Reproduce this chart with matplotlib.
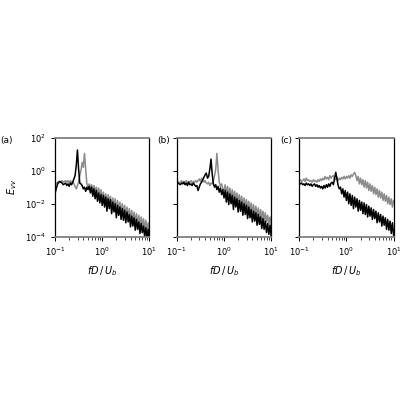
import numpy as np
import matplotlib
matplotlib.use("Agg")
import matplotlib.pyplot as plt

# frequency samples, log10(fD/U_b)
logf = [-1.0, -0.975, -0.95, -0.925, -0.9, -0.875, -0.85, -0.825, -0.8, -0.775,
        -0.75, -0.725, -0.7, -0.675, -0.65, -0.625, -0.6, -0.575, -0.55, -0.525,
        -0.5, -0.475, -0.45, -0.425, -0.4, -0.375, -0.35, -0.325, -0.3, -0.275,
        -0.25, -0.225, -0.2, -0.175, -0.15, -0.125, -0.1, -0.075, -0.05, -0.025,
        0.0, 0.025, 0.05, 0.075, 0.1, 0.125, 0.15, 0.175, 0.2, 0.225,
        0.25, 0.275, 0.3, 0.325, 0.35, 0.375, 0.4, 0.425, 0.45, 0.475,
        0.5, 0.525, 0.55, 0.575, 0.6, 0.625, 0.65, 0.675, 0.7, 0.725,
        0.75, 0.775, 0.8, 0.825, 0.85, 0.875, 0.9, 0.925, 0.95, 0.975, 1.0]

# log10(E_vv)
a_black = [-1.4, -1.1, -0.85, -0.7, -0.65, -0.7, -0.75, -0.85, -0.8, -0.75,
           -0.9, -0.8, -0.95, -0.75, -0.85, -0.7, -0.5, -0.3, 0.3, 1.25,
           0.1, -0.75, -0.8, -0.9, -1.1, -1.0, -1.25, -1.0, -1.15, -0.95,
           -1.35, -1.0, -1.55, -1.1, -1.7, -1.2, -1.85, -1.35, -1.95, -1.45,
           -2.1, -1.5, -2.2, -1.6, -2.45, -1.7, -2.3, -1.75, -2.6, -1.9,
           -2.5, -2.0, -2.85, -2.1, -2.7, -2.2, -2.95, -2.3, -3.0, -2.4,
           -3.15, -2.5, -3.1, -2.65, -3.4, -2.75, -3.35, -2.85, -3.6, -2.95,
           -3.55, -3.1, -3.8, -3.2, -3.75, -3.35, -4.0, -3.45, -4.1, -3.55, -4.2]
a_gray = [-0.9, -0.8, -0.7, -0.75, -0.65, -0.7, -0.6, -0.7, -0.65, -0.6,
          -0.7, -0.6, -0.75, -0.6, -0.7, -0.65, -0.8, -0.95, -1.1, -0.9,
          -0.7, -0.3, 0.0, 0.5, 0.2, 1.05, 0.1, -0.8, -1.0, -0.8,
          -1.05, -0.85, -1.2, -0.9, -1.3, -1.0, -1.4, -1.05, -1.55, -1.15,
          -1.7, -1.3, -1.85, -1.4, -2.0, -1.45, -1.95, -1.55, -2.15, -1.65,
          -2.2, -1.7, -2.35, -1.8, -2.4, -1.9, -2.55, -2.0, -2.6, -2.1,
          -2.75, -2.2, -2.8, -2.3, -2.95, -2.4, -3.0, -2.5, -3.15, -2.6,
          -3.2, -2.7, -3.35, -2.8, -3.4, -2.9, -3.55, -3.0, -3.65, -3.15, -3.7]

b_black = [-0.8, -0.75, -0.8, -0.85, -0.75, -0.8, -0.7, -0.85, -0.75, -0.9,
           -0.7, -0.85, -0.8, -0.9, -0.75, -0.85, -0.95, -0.9, -1.2, -1.0,
           -0.8, -0.7, -0.55, -0.4, -0.25, -0.15, -0.45, -0.35, 0.1, 0.7,
           -0.2, -0.8, -1.0, -0.85, -1.15, -0.95, -1.3, -1.05, -1.45, -1.15,
           -1.65, -1.2, -1.9, -1.3, -2.05, -1.4, -2.0, -1.5, -2.35, -1.6,
           -2.2, -1.7, -2.5, -1.8, -2.45, -1.9, -2.7, -2.0, -2.65, -2.1,
           -2.9, -2.2, -2.85, -2.35, -3.1, -2.45, -3.05, -2.55, -3.3, -2.65,
           -3.25, -2.8, -3.5, -2.9, -3.55, -3.05, -3.75, -3.2, -3.85, -3.3, -4.0]
b_gray = [-0.7, -0.65, -0.75, -0.7, -0.6, -0.75, -0.65, -0.7, -0.6, -0.75,
          -0.65, -0.7, -0.6, -0.75, -0.65, -0.7, -0.6, -0.7, -0.6, -0.5,
          -0.65, -0.45, -0.6, -0.7, -0.6, -0.75, -0.8, -0.7, -0.9, -0.75,
          -0.8, -0.6, -0.3, 0.1, 1.05, 0.0, -0.7, -0.95, -0.8, -1.1,
          -1.2, -0.85, -1.45, -0.95, -1.5, -1.05, -1.65, -1.15, -1.7, -1.25,
          -1.85, -1.35, -1.9, -1.45, -2.05, -1.55, -2.1, -1.65, -2.25, -1.75,
          -2.3, -1.85, -2.45, -1.95, -2.5, -2.05, -2.65, -2.15, -2.7, -2.25,
          -2.85, -2.35, -2.9, -2.45, -3.05, -2.55, -3.1, -2.7, -3.25, -2.8, -3.35]

c_black = [-0.7, -0.8, -0.75, -0.85, -0.8, -0.9, -0.75, -0.85, -0.8, -0.9,
           -0.8, -0.95, -0.85, -0.8, -0.95, -0.85, -1.0, -0.9, -1.05, -0.95,
           -1.1, -0.9, -1.05, -0.85, -1.0, -0.8, -0.95, -0.75, -0.7, -0.85,
           -0.45, -0.1, -0.5, -0.9, -1.1, -1.0, -1.4, -1.1, -1.6, -1.2,
           -1.8, -1.3, -2.0, -1.4, -2.1, -1.5, -2.3, -1.6, -2.2, -1.7,
           -2.45, -1.8, -2.4, -1.9, -2.6, -1.95, -2.65, -2.05, -2.8, -2.15,
           -2.75, -2.25, -2.95, -2.35, -2.9, -2.45, -3.15, -2.55, -3.1, -2.65,
           -3.35, -2.75, -3.3, -2.85, -3.55, -2.95, -3.6, -3.05, -3.8, -3.15, -3.9]
c_gray = [-0.6, -0.55, -0.65, -0.6, -0.5, -0.65, -0.45, -0.6, -0.55, -0.65,
          -0.6, -0.7, -0.55, -0.65, -0.6, -0.7, -0.55, -0.65, -0.5, -0.6,
          -0.45, -0.55, -0.35, -0.5, -0.4, -0.55, -0.3, -0.45, -0.35, -0.3,
          -0.5, -0.55, -0.4, -0.6, -0.45, -0.55, -0.4, -0.5, -0.35, -0.5,
          -0.35, -0.45, -0.3, -0.45, -0.25, -0.35, -0.2, -0.1, -0.3, -0.6,
          -0.35, -0.8, -0.45, -0.85, -0.55, -1.0, -0.6, -1.05, -0.7, -1.2,
          -0.8, -1.25, -0.9, -1.4, -1.0, -1.45, -1.1, -1.6, -1.2, -1.65,
          -1.3, -1.8, -1.4, -1.85, -1.5, -2.0, -1.6, -2.05, -1.7, -2.2, -1.8]

panels = ["(a)", "(b)", "(c)"]
series = [(a_black, a_gray), (b_black, b_gray), (c_black, c_gray)]

plt.rcParams['font.family'] = ['DejaVu Sans']
plt.rcParams['mathtext.fontset'] = 'dejavusans'

fig = plt.figure(figsize=(4, 4), dpi=100)
lefts = [0.1375, 0.442, 0.748]
label_x = [0.0, 0.392, 0.70]
freq = 10 ** np.array(logf)

for k, (name, (blk, gry)) in enumerate(zip(panels, series)):
    ax = fig.add_axes([lefts[k], 0.408, 0.236, 0.248])
    ax.plot(freq, 10 ** np.array(gry), color='0.55', lw=1.1)
    ax.plot(freq, 10 ** np.array(blk), color='black', lw=1.1)
    ax.set_xscale('log')
    ax.set_yscale('log')
    ax.set_xlim(0.1, 10)
    ax.set_ylim(1e-4, 1e2)
    ax.set_yticks([1e-4, 1e-2, 1e0, 1e2])
    ax.yaxis.set_minor_locator(matplotlib.ticker.NullLocator())
    ax.tick_params(labelsize=6, length=3, width=0.7)
    ax.tick_params(which='minor', length=1.8, width=0.5)
    for s in ['top', 'bottom']:
        ax.spines[s].set_color('0.5')
        ax.spines[s].set_linewidth(1.3)
    for s in ['left', 'right']:
        ax.spines[s].set_linewidth(0.9)
    ax.set_xlabel(r'$fD\,/\,U_b$', fontsize=7)
    if k == 0:
        ax.set_ylabel(r'$E_{vv}$', fontsize=7)
    else:
        ax.set_yticklabels([])
    fig.text(label_x[k], 0.65, name, fontsize=6.5, va='center', ha='left')

fig.savefig('out.png', dpi=100)
